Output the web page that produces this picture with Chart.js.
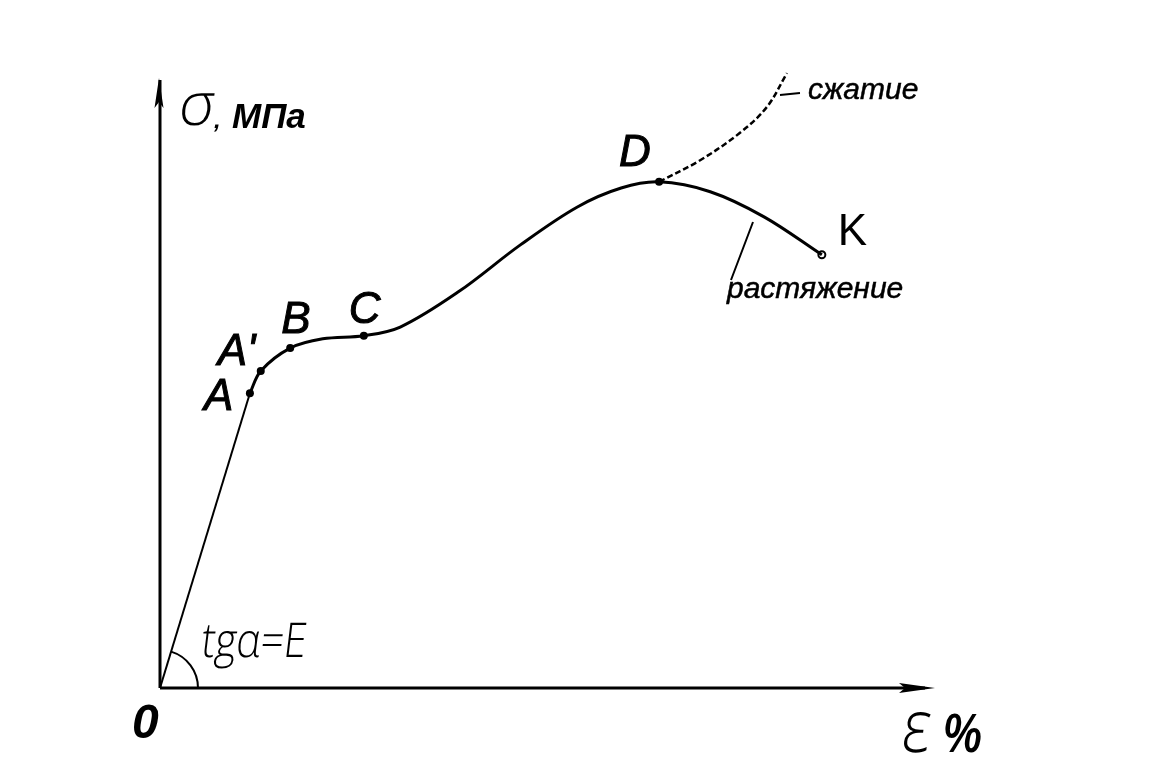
<!DOCTYPE html>
<html>
<head>
<meta charset="utf-8">
<script src="https://cdn.jsdelivr.net/npm/chart.js@4"></script>
<style>
  html, body { margin: 0; padding: 0; background: #fff; }
  #wrap { width: 1172px; height: 783px; }
</style>
</head>
<body>
<div id="wrap"><canvas id="chart" width="1172" height="783"></canvas></div>
<script>
// strain (%) and stress (MPa), relative units
const elasticStrain = [0, 11.6];
const elasticStress = [0, 47.7];

const tensionStrain = [11.6, 13.0, 16.8, 21.0, 26.3, 31.0, 38.5, 46.5, 53.8, 59.5, 64.4, 71.0, 78.0, 85.4];
const tensionStress = [47.7, 51.3, 55.0, 56.5, 57.0, 58.4, 64.1, 71.7, 77.8, 80.9, 81.9, 80.3, 76.2, 70.1];

const compressionStrain = [64.4, 69.7, 74.8, 78.3, 80.9];
const compressionStress = [81.9, 85.4, 89.8, 94.0, 99.5];

const keyLabels = ['A', "A'", 'B', 'C', 'D'];
const keyStrain = [11.6, 13.0, 16.8, 26.3, 64.4];
const keyStress = [47.7, 51.3, 55.0, 57.0, 81.9];

const endLabel = 'K';
const endStrain = [85.4];
const endStress = [70.1];

const xTitle = 'ε';
const yTitle = 'σ';

const $chart = document.querySelector('#chart');
const context = $chart.getContext('2d');

function pts(xs, ys) {
  return xs.map((x, i) => ({ x, y: ys[i] }));
}

// label offsets from their point, in pixels
const labelOffsets = [[-46, 17], [-43, -6], [-9, -15], [-15, -13], [-40, -16]];

function arrow(ctx, x, y, dir, len, half) {
  ctx.beginPath();
  if (dir === 'up') {
    ctx.moveTo(x, y);
    ctx.lineTo(x - half, y + len);
    ctx.lineTo(x, y + len - 6);
    ctx.lineTo(x + half, y + len);
  } else {
    ctx.moveTo(x, y);
    ctx.lineTo(x - len, y - half);
    ctx.lineTo(x - len + 6, y);
    ctx.lineTo(x - len, y + half);
  }
  ctx.closePath();
  ctx.fill();
}

function thinText(ctx, text, x, y, size, sx) {
  ctx.save();
  ctx.translate(x, y);
  ctx.transform(sx, 0, -0.12, 1, 0, 0);
  ctx.font = '300 ' + size + 'px "Open Sans", sans-serif';
  ctx.fillText(text, 0, 0);
  ctx.restore();
}

const drawing = {
  id: 'drawing',
  beforeDatasetsDraw(chart) {
    const { ctx, chartArea: a } = chart;
    ctx.save();
    ctx.strokeStyle = '#000';
    ctx.fillStyle = '#000';
    ctx.lineWidth = 3;
    ctx.beginPath();
    ctx.moveTo(a.left, a.bottom);
    ctx.lineTo(a.left, a.top + 10);
    ctx.moveTo(a.left, a.bottom);
    ctx.lineTo(a.right - 10, a.bottom);
    ctx.stroke();
    arrow(ctx, a.left - 1, a.top + 8, 'up', 30, 4.5);
    arrow(ctx, a.right, a.bottom, 'right', 36, 5);

    // angle alpha
    const xs = chart.scales.x, ys = chart.scales.y;
    const ax = xs.getPixelForValue(elasticStrain[1]) - a.left;
    const ay = a.bottom - ys.getPixelForValue(elasticStress[1]);
    ctx.lineWidth = 2;
    ctx.beginPath();
    ctx.arc(a.left, a.bottom, 38, -Math.atan2(ay, ax), 0);
    ctx.stroke();
    ctx.restore();
  },
  afterDatasetsDraw(chart) {
    const { ctx, chartArea: a } = chart;
    const xs = chart.scales.x, ys = chart.scales.y;
    ctx.save();
    ctx.fillStyle = '#000';
    ctx.strokeStyle = '#000';
    ctx.textBaseline = 'alphabetic';
    ctx.textAlign = 'left';

    ctx.font = 'italic 44px "Liberation Sans", Arial, sans-serif';
    ctx.lineWidth = 1;
    keyLabels.forEach((t, i) => {
      const px = xs.getPixelForValue(keyStrain[i]) + labelOffsets[i][0];
      const py = ys.getPixelForValue(keyStress[i]) + labelOffsets[i][1];
      ctx.fillText(t, px, py);
      ctx.strokeText(t, px, py);
    });
    ctx.font = '44px "Liberation Sans", Arial, sans-serif';
    ctx.fillText(endLabel, xs.getPixelForValue(endStrain[0]) + 16, ys.getPixelForValue(endStress[0]) - 10);

    // y title
    thinText(ctx, yTitle, a.left + 17, a.top + 55, 60, 1);
    ctx.font = 'bold italic 24px "Liberation Sans", Arial, sans-serif';
    ctx.fillText(',', a.left + 54, a.top + 58);
    ctx.font = 'bold italic 35px "Liberation Sans", Arial, sans-serif';
    ctx.fillText('МПа', a.left + 72, a.top + 58);

    // x title
    thinText(ctx, xTitle, a.right - 35, a.bottom + 64, 74, 0.85);
    ctx.save();
    ctx.translate(a.right + 8, a.bottom + 64);
    ctx.scale(0.78, 1);
    ctx.font = 'bold italic 56px "Liberation Sans", Arial, sans-serif';
    ctx.fillText('%', 0, 0);
    ctx.restore();

    // origin
    ctx.font = 'bold italic 48px "Liberation Sans", Arial, sans-serif';
    ctx.fillText('0', a.left - 28, a.bottom + 50);

    // modulus
    thinText(ctx, 'tgα=E', a.left + 40, a.bottom - 31, 48, 0.85);

    // curve names with leader lines
    ctx.font = 'italic 30px "Liberation Sans", Arial, sans-serif';
    ctx.lineWidth = 0.5;
    ctx.fillText('сжатие', a.left + 648, a.top + 29);
    ctx.strokeText('сжатие', a.left + 648, a.top + 29);
    ctx.fillText('растяжение', a.left + 567, a.top + 228);
    ctx.strokeText('растяжение', a.left + 567, a.top + 228);
    ctx.lineWidth = 2;
    ctx.beginPath();
    ctx.moveTo(a.left + 620, a.top + 25);
    ctx.lineTo(a.left + 640, a.top + 23);
    ctx.moveTo(a.left + 593, a.top + 152);
    ctx.lineTo(a.left + 571, a.top + 210);
    ctx.stroke();
    ctx.restore();
  }
};

new Chart(context, {
  type: 'scatter',
  data: {
    datasets: [
      {
        data: pts(elasticStrain, elasticStress),
        showLine: true,
        borderColor: '#000',
        borderWidth: 2,
        pointRadius: 0,
        tension: 0
      },
      {
        data: pts(tensionStrain, tensionStress),
        showLine: true,
        borderColor: '#000',
        borderWidth: 3,
        pointRadius: 0,
        tension: 0.35
      },
      {
        data: pts(compressionStrain, compressionStress),
        showLine: true,
        borderColor: '#000',
        borderWidth: 2.5,
        borderDash: [6, 3],
        pointRadius: 0,
        tension: 0.35
      },
      {
        data: pts(keyStrain, keyStress),
        showLine: false,
        backgroundColor: '#000',
        borderColor: '#000',
        pointRadius: 4,
        borderWidth: 0
      },
      {
        data: pts(endStrain, endStress),
        showLine: false,
        backgroundColor: '#fff',
        borderColor: '#000',
        pointRadius: 3.5,
        borderWidth: 2
      }
    ]
  },
  options: {
    responsive: false,
    animation: false,
    clip: false,
    layout: { padding: { left: 160, right: 237, top: 70, bottom: 95 } },
    plugins: { legend: { display: false }, tooltip: { enabled: false } },
    scales: {
      x: { type: 'linear', min: 0, max: 100, display: false },
      y: { type: 'linear', min: 0, max: 100, display: false }
    }
  },
  plugins: [drawing]
});
</script>
</body>
</html>
